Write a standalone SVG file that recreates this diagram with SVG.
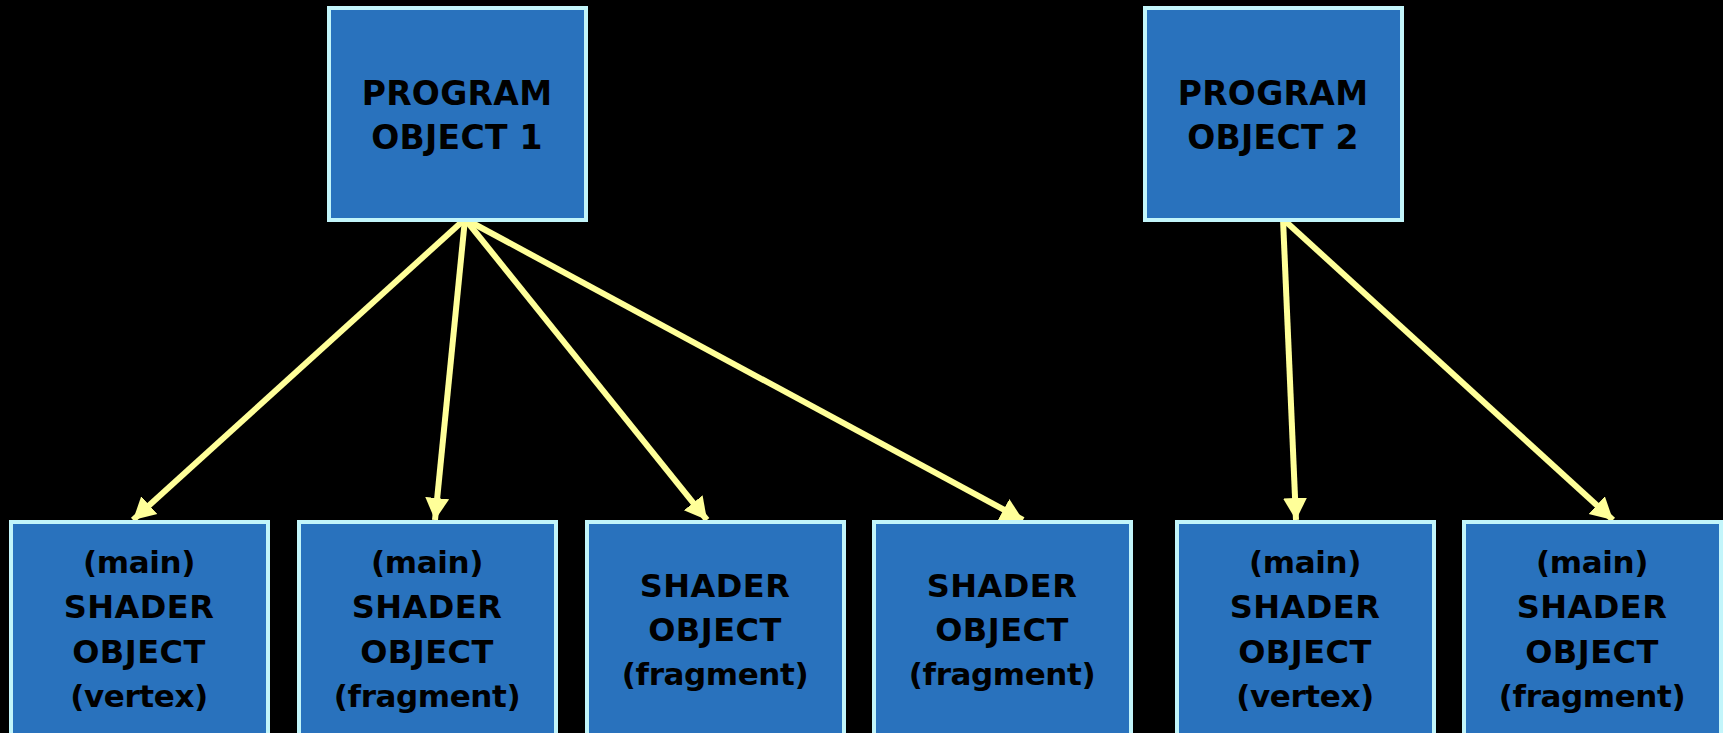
<svg xmlns="http://www.w3.org/2000/svg" width="1723" height="733" viewBox="0 0 1723 733">
<defs>
<style>
.box{fill:#2972BD;stroke:#C2F5FA;stroke-width:4}
.t{font-family:"DejaVu Sans","Verdana",sans-serif;font-weight:bold;fill:#000;text-anchor:middle}
.tp{font-size:33px;letter-spacing:0.3px}
.ts{font-size:32px;letter-spacing:0.5px}
.tl{font-size:31px;letter-spacing:-0.4px}
.arr{stroke:#FFFF99;stroke-width:6;fill:none;marker-end:url(#ah)}
</style>
<marker id="ah" markerUnits="userSpaceOnUse" markerWidth="26" markerHeight="26" viewBox="0 0 26 26" refX="22" refY="13" orient="auto">
<path d="M0,1 L22,13 L0,25 Z" fill="#FFFF99"/>
</marker>
</defs>
<rect width="1723" height="733" fill="#000"/>
<g id="connectors">
<line class="arr" x1="465" y1="219" x2="133" y2="520"/>
<line class="arr" x1="465" y1="219" x2="435" y2="520"/>
<line class="arr" x1="465" y1="219" x2="707" y2="520"/>
<line class="arr" x1="465" y1="219" x2="1023" y2="520"/>
<line class="arr" x1="1283" y1="219" x2="1296" y2="520"/>
<line class="arr" x1="1283" y1="219" x2="1613" y2="520"/>
</g>
<g id="program1">
<rect class="box" x="329" y="8" width="257" height="212"/>
<text class="t tp" x="457" y="105">PROGRAM</text>
<text class="t tp" x="457" y="149">OBJECT 1</text>
</g>
<g id="program2">
<rect class="box" x="1145" y="8" width="257" height="212"/>
<text class="t tp" x="1273" y="105">PROGRAM</text>
<text class="t tp" x="1273" y="149">OBJECT 2</text>
</g>
<g id="shader1">
<rect class="box" x="11" y="522" width="257" height="240"/>
<text class="t tl" x="139" y="573">(main)</text>
<text class="t ts" x="139" y="618">SHADER</text>
<text class="t ts" x="139" y="663">OBJECT</text>
<text class="t tl" x="139" y="707">(vertex)</text>
</g>
<g id="shader2">
<rect class="box" x="299" y="522" width="257" height="240"/>
<text class="t tl" x="427" y="573">(main)</text>
<text class="t ts" x="427" y="618">SHADER</text>
<text class="t ts" x="427" y="663">OBJECT</text>
<text class="t tl" x="427" y="707">(fragment)</text>
</g>
<g id="shader3">
<rect class="box" x="587" y="522" width="257" height="240"/>
<text class="t ts" x="715" y="597">SHADER</text>
<text class="t ts" x="715" y="641">OBJECT</text>
<text class="t tl" x="715" y="685">(fragment)</text>
</g>
<g id="shader4">
<rect class="box" x="874" y="522" width="257" height="240"/>
<text class="t ts" x="1002" y="597">SHADER</text>
<text class="t ts" x="1002" y="641">OBJECT</text>
<text class="t tl" x="1002" y="685">(fragment)</text>
</g>
<g id="shader5">
<rect class="box" x="1177" y="522" width="257" height="240"/>
<text class="t tl" x="1305" y="573">(main)</text>
<text class="t ts" x="1305" y="618">SHADER</text>
<text class="t ts" x="1305" y="663">OBJECT</text>
<text class="t tl" x="1305" y="707">(vertex)</text>
</g>
<g id="shader6">
<rect class="box" x="1464" y="522" width="257" height="240"/>
<text class="t tl" x="1592" y="573">(main)</text>
<text class="t ts" x="1592" y="618">SHADER</text>
<text class="t ts" x="1592" y="663">OBJECT</text>
<text class="t tl" x="1592" y="707">(fragment)</text>
</g>
</svg>
